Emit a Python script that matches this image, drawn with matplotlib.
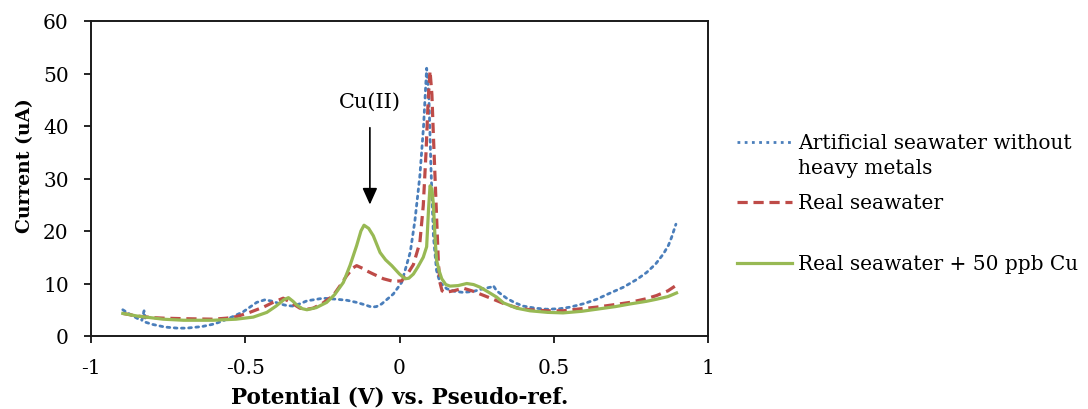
import matplotlib
matplotlib.use("Agg")
import matplotlib.pyplot as plt
from matplotlib.lines import Line2D

# ---------------- data ----------------
artificial_x = [-0.897, -0.87, -0.845, -0.835, -0.828, -0.822, -0.80, -0.76, -0.72, -0.69,
                -0.64, -0.60, -0.572, -0.54, -0.507, -0.48, -0.463, -0.436, -0.41, -0.387,
                -0.365, -0.345, -0.32, -0.30, -0.247, -0.204, -0.17, -0.139, -0.11, -0.09,
                -0.075, -0.058, -0.04, -0.02, 0.007, 0.035, 0.05, 0.066, 0.078, 0.088,
                0.095, 0.102, 0.11, 0.12, 0.131, 0.153, 0.18, 0.207, 0.24, 0.271,
                0.295, 0.304, 0.315, 0.347, 0.375, 0.401, 0.44, 0.477, 0.52, 0.553,
                0.60, 0.639, 0.68, 0.726, 0.77, 0.801, 0.83, 0.855, 0.872, 0.882, 0.896]
artificial_y = [5.0, 4.0, 3.2, 3.0, 4.8, 2.6, 2.2, 1.7, 1.5, 1.5,
                1.8, 2.3, 2.9, 3.7, 4.6, 5.7, 6.4, 6.9, 6.6, 6.1,
                5.8, 5.7, 6.2, 6.7, 7.2, 7.0, 6.8, 6.4, 5.9, 5.5,
                5.6, 6.1, 7.0, 8.0, 10.2, 16.0, 22.0, 30.5, 40.0, 51.0,
                46.0, 32.0, 19.0, 12.5, 10.2, 9.0, 8.5, 8.3, 8.5, 9.0,
                9.3, 9.6, 8.6, 7.2, 6.3, 5.7, 5.3, 5.1, 5.2, 5.5,
                6.2, 7.0, 8.1, 9.3, 10.8, 12.1, 13.7, 15.6, 17.3, 18.8, 21.3]

real_x = [-0.897, -0.85, -0.80, -0.766, -0.70, -0.604, -0.56, -0.528, -0.49, -0.441,
          -0.41, -0.377, -0.35, -0.323, -0.30, -0.28, -0.25, -0.215, -0.19, -0.171,
          -0.15, -0.139, -0.12, -0.106, -0.085, -0.052, -0.02, 0.007, 0.029, 0.045,
          0.066, 0.077, 0.086, 0.093, 0.099, 0.105, 0.11, 0.118, 0.126, 0.131,
          0.138, 0.147, 0.175, 0.207, 0.235, 0.261, 0.30, 0.337, 0.38, 0.423,
          0.48, 0.53, 0.59, 0.639, 0.70, 0.747, 0.80, 0.833, 0.87, 0.893]
real_y = [4.3, 3.8, 3.5, 3.4, 3.3, 3.2, 3.4, 3.7, 4.4, 5.5,
          6.4, 7.2, 6.3, 5.3, 5.1, 5.3, 6.2, 7.7, 9.8, 11.5,
          13.0, 13.4, 12.9, 12.4, 11.8, 10.9, 10.4, 10.5, 12.1, 13.6,
          17.8, 24.8, 35.0, 45.0, 50.5, 46.0, 38.0, 26.0, 14.0, 10.2,
          8.6, 8.3, 8.6, 9.1, 8.6, 8.0, 7.1, 6.2, 5.4, 5.0,
          4.8, 4.8, 5.2, 5.5, 6.0, 6.4, 7.1, 7.7, 8.6, 9.5]

cu_x = [-0.897, -0.85, -0.766, -0.70, -0.604, -0.53, -0.474, -0.43, -0.40, -0.375,
        -0.36, -0.345, -0.333, -0.315, -0.30, -0.27, -0.236, -0.21, -0.182, -0.16,
        -0.139, -0.125, -0.115, -0.10, -0.085, -0.063, -0.045, -0.025, 0.0, 0.018,
        0.03, 0.045, 0.06, 0.077, 0.088, 0.094, 0.099, 0.105, 0.11, 0.115,
        0.12, 0.128, 0.137, 0.15, 0.164, 0.19, 0.218, 0.24, 0.261, 0.29,
        0.315, 0.337, 0.38, 0.423, 0.48, 0.53, 0.59, 0.639, 0.70, 0.747,
        0.80, 0.833, 0.87, 0.898]
cu_y = [4.3, 3.8, 3.2, 3.0, 3.0, 3.2, 3.6, 4.5, 5.7, 6.9,
        7.3, 6.6, 5.9, 5.2, 5.0, 5.4, 6.4, 7.9, 10.2, 13.5,
        17.2, 20.0, 21.1, 20.5, 19.1, 15.9, 14.5, 13.4, 11.8, 10.9,
        11.0, 11.8, 13.2, 15.0, 17.0, 24.0, 28.6, 28.0, 25.0, 19.0,
        14.5, 12.5, 10.9, 9.8, 9.5, 9.6, 10.0, 9.8, 9.3, 8.3,
        7.4, 6.3, 5.3, 4.8, 4.5, 4.4, 4.7, 5.1, 5.6, 6.1,
        6.6, 7.0, 7.5, 8.2]

series_labels = [["Artificial seawater without", "heavy metals"], ["Real seawater"],
                 ["Real seawater + 50 ppb Cu"]]
x_ticks = [-1, -0.5, 0, 0.5, 1]
x_tick_labels = ["-1", "-0.5", "0", "0.5", "1"]
y_ticks = [0, 10, 20, 30, 40, 50, 60]

# ---------------- style ----------------
plt.rcParams['font.family'] = ['DejaVu Serif']
FS = 14.5
BLUE = '#4a7ebb'
RED = '#be4b48'
GREEN = '#98b954'

W, H = 1088, 410
fig = plt.figure(figsize=(W / 100, H / 100), dpi=100)
ax = fig.add_axes([91 / W, 1 - 337 / H, (708 - 91) / W, (337 - 22) / H])

ax.plot(artificial_x, artificial_y, color=BLUE, lw=2.0, ls=(0, (1, 1.6)),
        dash_capstyle='round')
ax.plot(real_x, real_y, color=RED, lw=2.3, ls=(0, (3.2, 1.8)))
ax.plot(cu_x, cu_y, color=GREEN, lw=2.3, ls='-')

ax.set_xlim(-1, 1)
ax.set_ylim(0, 60)
ax.set_xticks(x_ticks)
ax.set_xticklabels(x_tick_labels)
ax.set_yticks(y_ticks)
ax.tick_params(direction='out', length=5, width=1.2, labelsize=FS, colors='black')
ax.tick_params(axis='x', pad=11)
ax.tick_params(axis='y', pad=11)
for s in ax.spines.values():
    s.set_linewidth(1.4)
    s.set_color('#1a1a1a')

ax.set_xlabel("Potential (V) vs. Pseudo-ref.", fontsize=15.5, fontweight='bold')
ax.set_ylabel("Current (uA)", fontsize=13.5, fontweight='bold')
ax.xaxis.set_label_coords(0.5, -(398 - 337) / 315, transform=ax.transAxes)
ax.xaxis.label.set_va('center')
ax.yaxis.set_label_coords(-(91 - 25) / 617, (337 - 166) / 315, transform=ax.transAxes)
ax.yaxis.label.set_va('center')

# annotation
ax.annotate("", xy=(-0.096, 24.5), xytext=(-0.096, 40.2),
            arrowprops=dict(arrowstyle='-|>,head_width=0.45,head_length=1.0',
                            color='black', lw=1.2))
ax.text(-0.096, 44.8, "Cu(II)", fontsize=15, ha='center', va='center')

# legend (manual)
def fx(px):
    return px / W

def fy(py):
    return 1 - py / H

styles = [dict(color=BLUE, lw=2.0, ls=(0, (1, 1.6))),
          dict(color=RED, lw=2.3, ls=(0, (3.2, 1.8))),
          dict(color=GREEN, lw=2.3, ls='-')]
ys = [143, 203, 264]
for lines, st, yy in zip(series_labels, styles, ys):
    fig.add_artist(Line2D([fx(737), fx(792)], [fy(yy), fy(yy)],
                          transform=fig.transFigure, **st))
    for i, ln in enumerate(lines):
        fig.text(fx(798), fy(yy + 1 + 25 * i), ln, fontsize=FS, ha='left', va='center')

fig.savefig("out.png", dpi=100)
